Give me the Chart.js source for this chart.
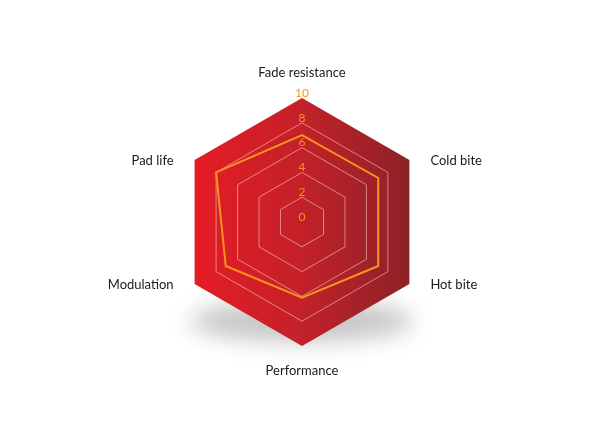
<!DOCTYPE html>
<html>
<head>
<meta charset="utf-8">
<script src="https://cdn.jsdelivr.net/npm/chart.js@4"></script>
<style>
  html, body { margin: 0; padding: 0; background: #fff; }
  #wrap { width: 600px; height: 440px; }
</style>
</head>
<body>
<div id="wrap"><canvas id="radar"></canvas></div>
<script>
// Datos del gráfico
const ejes = ['Fade resistance', 'Cold bite', 'Hot bite', 'Performance', 'Modulation', 'Pad life'];
const valores = [7, 7.1, 7.1, 6.1, 7.1, 8];
const escalaMin = 0;
const escalaMax = 10;
const pasoTicks = 2;

const naranja = '#f7941d';
const fuente = "Lato, 'Noto Sans', sans-serif";

// Fondo hexagonal con degradado y sombra
const fondoHexagono = {
  id: 'fondoHexagono',
  beforeDraw(chart) {
    const s = chart.scales.r;
    const ctx = chart.ctx;
    const n = ejes.length;
    const pts = [];
    for (let i = 0; i < n; i++) pts.push(s.getPointPositionForValue(i, escalaMax));

    // sombra difusa debajo
    const R = s.drawingArea;
    ctx.save();
    ctx.filter = 'blur(11px)';
    ctx.fillStyle = 'rgba(0,0,0,0.22)';
    ctx.beginPath();
    ctx.ellipse(s.xCenter, s.yCenter + R * 0.8, R * 0.9, R * 0.17, 0, 0, Math.PI * 2);
    ctx.fill();
    ctx.restore();

    const left = s.xCenter - R * Math.sin(Math.PI / 3);
    const right = s.xCenter + R * Math.sin(Math.PI / 3);
    const grad = ctx.createLinearGradient(left, 0, right, 0);
    grad.addColorStop(0, '#e51c24');
    grad.addColorStop(0.5, '#c32129');
    grad.addColorStop(1, '#8c2227');

    ctx.save();
    ctx.beginPath();
    pts.forEach((p, i) => i ? ctx.lineTo(p.x, p.y) : ctx.moveTo(p.x, p.y));
    ctx.closePath();
    ctx.fillStyle = grad;
    ctx.fill();
    ctx.restore();
  },
  afterDraw(chart) {
    const s = chart.scales.r;
    const ctx = chart.ctx;
    ctx.save();
    // etiquetas de los ticks
    ctx.font = '12px ' + fuente;
    ctx.fillStyle = naranja;
    ctx.textAlign = 'center';
    ctx.textBaseline = 'middle';
    s.ticks.forEach(t => {
      const d = s.getDistanceFromCenterForValue(t.value);
      ctx.fillText(String(t.value), s.xCenter, s.yCenter - d - 5);
    });
    // etiquetas de los ejes
    ctx.font = '13px ' + fuente;
    ctx.fillStyle = '#1a1a1a';
    ejes.forEach((nombre, i) => {
      const p = s.getPointPositionForValue(i, escalaMax);
      const dx = p.x - s.xCenter;
      if (Math.abs(dx) < 1) {
        ctx.textAlign = 'center';
        ctx.fillText(nombre, p.x, p.y + (p.y < s.yCenter ? -25 : 25));
      } else {
        ctx.textAlign = dx > 0 ? 'left' : 'right';
        ctx.fillText(nombre, p.x + (dx > 0 ? 21 : -21), p.y + 1);
      }
    });
    ctx.restore();
  }
};

new Chart(document.getElementById('radar'), {
  type: 'radar',
  data: {
    labels: ejes,
    datasets: [{
      label: 'Pad',
      data: valores,
      borderColor: naranja,
      borderWidth: 2,
      backgroundColor: 'rgba(0,0,0,0)',
      fill: false,
      pointRadius: 0,
      pointHoverRadius: 0,
      tension: 0
    }]
  },
  options: {
    responsive: true,
    maintainAspectRatio: false,
    animation: false,
    layout: { padding: { top: 98, bottom: 93, left: 100, right: 96 } },
    plugins: {
      legend: { display: false },
      tooltip: { enabled: false }
    },
    scales: {
      r: {
        min: escalaMin,
        max: escalaMax,
        angleLines: { display: false },
        grid: {
          color: c => c.tick && c.tick.value === escalaMax ? 'rgba(0,0,0,0)' : 'rgba(255,215,215,0.55)',
          lineWidth: 1
        },
        ticks: { display: false, stepSize: pasoTicks },
        pointLabels: { display: false }
      }
    }
  },
  plugins: [fondoHexagono]
});
</script>
</body>
</html>
